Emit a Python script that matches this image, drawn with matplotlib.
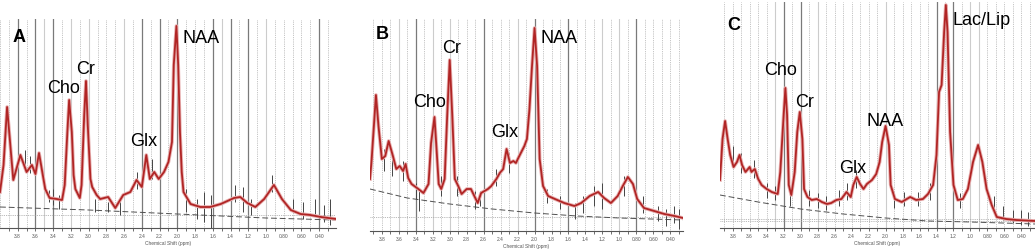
import numpy as np
import matplotlib.pyplot as plt

plt.rcParams['font.family'] = ['Liberation Sans', 'DejaVu Sans']

# ---- panel A: fitted spectrum (ppm, amplitude a.u.) ----
ppm_a = [4.00, 3.96, 3.92, 3.88, 3.85, 3.77, 3.70, 3.64, 3.60, 3.56, 3.49, 3.44, 3.36, 3.30,
         3.27, 3.24, 3.22, 3.19, 3.17, 3.15, 3.10, 3.08, 3.05, 3.03, 3.01, 2.98, 2.96, 2.91,
         2.87, 2.78, 2.70, 2.61, 2.53, 2.46, 2.40, 2.35, 2.31, 2.26, 2.21, 2.15, 2.10, 2.06,
         2.04, 2.01, 1.99, 1.97, 1.95, 1.93, 1.85, 1.74, 1.63, 1.51, 1.36, 1.29, 1.21, 1.12,
         1.02, 0.91, 0.82, 0.72, 0.61, 0.50, 0.38, 0.21]
fit_a = [36, 63, 121, 79, 48, 73, 56, 63, 54, 75, 39, 30, 29, 28,
         43, 96, 128, 96, 53, 39, 30, 43, 113, 147, 103, 49, 41, 33,
         29, 31, 20, 33, 36, 48, 41, 73, 49, 56, 49, 56, 66, 86,
         163, 202, 163, 96, 56, 36, 24, 21, 21, 24, 30, 31, 25, 21,
         29, 43, 29, 18, 14, 13, 11, 9]
raw_a_ppm = [3.72, 3.66, 3.45, 3.40, 3.33, 2.93, 2.78, 2.65, 2.46, 2.28, 1.90, 1.78, 1.70, 1.62,
             1.35, 1.26, 1.17, 0.93, 0.70, 0.58, 0.45, 0.35, 0.28]
raw_a_lo = [58, 55, 26, 23, 19, 16, 16, 13, 39, 49, 16, 9, 6, 0,
            26, 16, 13, 36, 16, 9, 13, 6, 3]
raw_a_hi = [78, 72, 38, 39, 33, 29, 26, 29, 56, 69, 39, 29, 36, 33,
            43, 41, 29, 53, 29, 26, 29, 23, 29]
base_a_ppm = [4.00, 3.00, 2.00, 1.00, 0.21]
base_a = [21, 18, 14, 10, 8]

# ---- panel B ----
ppm_b = [3.94, 3.92, 3.87, 3.84, 3.80, 3.76, 3.72, 3.67, 3.63, 3.59, 3.55, 3.52, 3.49, 3.45,
         3.37, 3.31, 3.25, 3.22, 3.18, 3.16, 3.13, 3.10, 3.06, 3.03, 3.00, 2.97, 2.94, 2.90,
         2.86, 2.80, 2.75, 2.71, 2.67, 2.63, 2.59, 2.55, 2.51, 2.45, 2.41, 2.37, 2.33, 2.29,
         2.25, 2.22, 2.18, 2.12, 2.09, 2.06, 2.03, 2.00, 1.97, 1.94, 1.90, 1.84, 1.76, 1.65,
         1.53, 1.45, 1.35, 1.25, 1.18, 1.10, 1.02, 0.96, 0.90, 0.84, 0.79, 0.71, 0.59, 0.47,
         0.35, 0.25]
fit_b = [52, 72, 136, 105, 72, 75, 90, 75, 62, 65, 60, 67, 53, 47,
         42, 38, 47, 88, 114, 88, 47, 42, 52, 115, 171, 115, 52, 45,
         37, 42, 42, 35, 28, 38, 40, 42, 45, 52, 58, 62, 82, 68,
         70, 68, 75, 85, 92, 122, 165, 203, 165, 72, 45, 35, 32, 28,
         25, 28, 35, 39, 33, 28, 35, 45, 54, 47, 32, 23, 20, 17,
         15, 13]
raw_b_ppm = [3.78, 3.68, 3.55, 3.40, 3.36, 3.10, 2.92, 2.70, 2.64, 2.45, 2.30, 1.85,
             1.70, 1.52, 1.43, 1.30, 1.20, 0.95, 0.72, 0.55, 0.45, 0.36, 0.30]
raw_b_lo = [60, 55, 50, 32, 20, 35, 35, 22, 25, 45, 58, 28, 22, 12, 18, 25, 22, 35, 18, 10, 5, 8, 2]
raw_b_hi = [82, 78, 70, 48, 40, 55, 55, 40, 40, 62, 78, 42, 35, 28, 35, 45, 48, 55, 35, 25, 22, 25, 22]
base_b_ppm = [3.94, 3.50, 3.00, 2.50, 2.00, 1.50, 1.00, 0.25]
base_b = [42, 33, 27, 22, 18, 15, 13, 11]

# ---- panel C ----
ppm_c = [3.95, 3.92, 3.89, 3.86, 3.83, 3.79, 3.75, 3.72, 3.69, 3.65, 3.60, 3.58, 3.54, 3.50,
         3.46, 3.40, 3.34, 3.27, 3.24, 3.20, 3.18, 3.16, 3.14, 3.11, 3.07, 3.04, 3.01, 2.98,
         2.96, 2.92, 2.87, 2.81, 2.75, 2.69, 2.64, 2.58, 2.52, 2.46, 2.41, 2.38, 2.34, 2.30,
         2.26, 2.22, 2.16, 2.11, 2.07, 2.04, 2.00, 1.96, 1.94, 1.89, 1.81, 1.71, 1.64, 1.56,
         1.50, 1.44, 1.40, 1.37, 1.34, 1.31, 1.29, 1.27, 1.24, 1.20, 1.15, 1.09, 1.03, 0.97,
         0.91, 0.86, 0.81, 0.75, 0.69, 0.58, 0.46, 0.24]
fit_c = [48, 89, 107, 89, 73, 61, 66, 73, 63, 56, 61, 56, 59, 49,
         43, 39, 36, 34, 56, 113, 140, 113, 43, 33, 56, 96, 116, 89,
         39, 31, 28, 29, 26, 24, 25, 28, 29, 36, 31, 43, 51, 44,
         39, 44, 48, 54, 66, 86, 102, 83, 43, 29, 26, 31, 28, 29,
         34, 43, 73, 136, 143, 196, 223, 196, 96, 43, 28, 29, 39, 66,
         83, 66, 39, 23, 11, 9, 8, 7]
raw_c_ppm = [3.80, 3.70, 3.55, 3.40, 3.30, 3.12, 2.90, 2.80, 2.70, 2.55, 2.45, 2.35,
             1.90, 1.78, 1.62, 1.48, 1.12, 0.72, 0.62, 0.50, 0.40, 0.32]
raw_c_lo = [62, 55, 50, 30, 28, 22, 22, 20, 18, 22, 28, 40, 20, 22, 22, 28, 20, 15, 8, 5, 3, 2]
raw_c_hi = [82, 75, 68, 45, 42, 40, 38, 35, 32, 38, 45, 58, 36, 36, 36, 45, 35, 32, 22, 18, 18, 16]
base_c_ppm = [3.95, 3.50, 3.00, 2.50, 2.00, 1.50, 1.00, 0.24]
base_c = [33, 26, 19, 14, 10, 7, 6, 4]

tick_vals = [3.8, 3.6, 3.4, 3.2, 3.0, 2.8, 2.6, 2.4, 2.2, 2.0, 1.8, 1.6, 1.4, 1.2, 1.0, 0.8, 0.6, 0.4]
tick_labels = ['3.8', '3.6', '3.4', '3.2', '3.0', '2.8', '2.6', '2.4', '2.2', '2.0', '1.8', '1.6',
               '1.4', '1.2', '1.0', '0.80', '0.60', '0.40']

# grid line styles per panel (ppm positions)
dark_a = [3.8, 3.6, 3.4, 2.4, 2.2, 2.0, 1.6, 1.4, 1.2, 0.4]
light_a = [3.5, 3.2, 3.0, 2.6, 1.5, 1.0]
dark_b = [3.4, 2.6, 2.0, 1.6, 0.8]
light_b = [3.6, 3.2, 3.0, 2.2, 1.2, 1.0]
dark_c = [3.2, 3.0, 1.4, 1.2]
light_c = [3.3, 2.8, 2.0, 1.0, 0.9]


def draw_panel(ax, ppm, fit, raw_ppm, raw_lo, raw_hi, base_ppm, base, hlines,
               dark, light, xlim, ylim):
    for v in np.arange(0.2, 4.01, 0.1):
        v = round(v, 1)
        if v > xlim[0] or v < xlim[1]:
            continue
        if any(np.isclose(v, d) for d in dark):
            ax.axvline(v, color='#7a7a7a', lw=0.9, zorder=1)
        elif any(np.isclose(v, d) for d in light):
            ax.axvline(v, color='#cccccc', lw=0.8, zorder=1)
        else:
            ax.axvline(v, color='#b0b0b0', lw=0.6, ls=(0, (1, 1.2)), zorder=1)
    for h in hlines:
        ax.axhline(h, color='#a0a0a0', lw=0.6, ls=(0, (1, 1.2)), zorder=1)
    ax.plot(base_ppm, base, color='#505050', lw=0.7, ls=(0, (6, 3)), zorder=2)
    ax.vlines(raw_ppm, raw_lo, raw_hi, color='#444444', lw=0.7, zorder=3)
    ax.plot(ppm, fit, color='#e8b0b0', lw=2.6, zorder=4, solid_joinstyle='round')
    ax.plot(ppm, fit, color='#b02525', lw=1.3, zorder=5, solid_joinstyle='round')
    ax.set_xlim(*xlim)
    ax.set_ylim(*ylim)
    ax.set_yticks([])
    for s in ['left', 'right', 'top']:
        ax.spines[s].set_visible(False)
    ax.spines['bottom'].set_color('#555555')
    ax.spines['bottom'].set_linewidth(0.8)
    ax.set_xticks(tick_vals)
    ax.set_xticklabels(tick_labels)
    ax.set_xticks(np.arange(0.3, 3.95, 0.2), minor=True)
    ax.tick_params(axis='x', which='both', direction='out', length=2, width=0.6,
                   colors='#555555', labelsize=3.5, pad=1.5)
    ax.set_xlabel('Chemical Shift (ppm)', fontsize=3.5, color='#555555', labelpad=1.5)


W, H = 1035, 251
fig = plt.figure(figsize=(W / 100, H / 100), dpi=100)

ax_a = fig.add_axes([0 / W, 22 / H, 336 / W, 209 / H])
ax_b = fig.add_axes([370 / W, 19 / H, 313 / W, 212 / H])
ax_c = fig.add_axes([720 / W, 22 / H, 315 / W, 226 / H])

draw_panel(ax_a, ppm_a, fit_a, raw_a_ppm, raw_a_lo, raw_a_hi, base_a_ppm, base_a, [13],
           dark_a, light_a, (4.0, 0.21), (0, 209))
draw_panel(ax_b, ppm_b, fit_b, raw_b_ppm, raw_b_lo, raw_b_hi, base_b_ppm, base_b, [14],
           dark_b, light_b, (3.94, 0.25), (0, 212))
draw_panel(ax_c, ppm_c, fit_c, raw_c_ppm, raw_c_lo, raw_c_hi, base_c_ppm, base_c, [9, 7],
           dark_c, light_c, (3.95, 0.24), (0, 226))


def label(x, y, s, bold=False):
    fig.text(x / W, 1 - y / H, s, fontsize=13, ha='left', va='baseline',
             fontweight='bold' if bold else 'normal', color='black', zorder=10)


# panel letters and metabolite labels (pixel positions: left edge, baseline)
label(13, 42, 'A', bold=True)
label(47, 93, 'Cho')
label(76, 74, 'Cr')
label(130, 146, 'Glx')
label(183, 43, 'NAA')

label(376, 39, 'B', bold=True)
label(413, 107, 'Cho')
label(442, 53, 'Cr')
label(491, 137, 'Glx')
label(541, 43, 'NAA')

label(727, 30, 'C', bold=True)
label(764, 75, 'Cho')
label(795, 107, 'Cr')
label(839, 173, 'Glx')
label(866, 126, 'NAA')
label(953, 25, 'Lac/Lip')

fig.savefig('out.png', dpi=100)
